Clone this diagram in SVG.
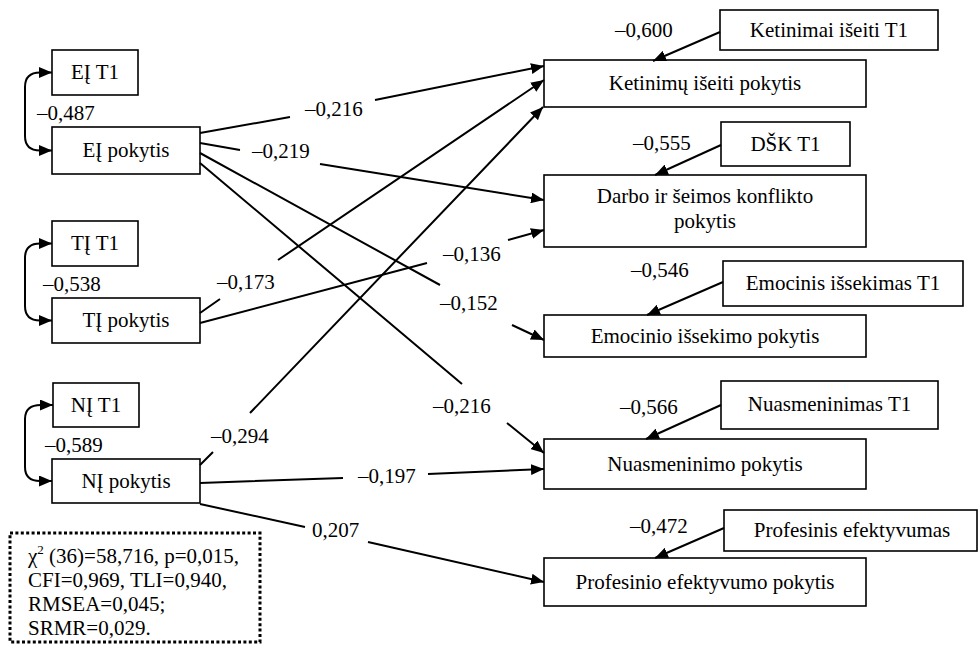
<svg xmlns="http://www.w3.org/2000/svg" width="979" height="645" viewBox="0 0 979 645" font-family="'Liberation Serif', 'DejaVu Serif', serif">
  <style>
    text { font-family: "Liberation Serif", "DejaVu Serif", serif; font-size: 21px; fill: #000; }
    .box rect { fill: #fff; stroke: #000; stroke-width: 1.6; }
    .box text { text-anchor: middle; }
    .edge { fill: none; stroke: #000; stroke-width: 2; }
    .arr { marker-end: url(#head); }
    .cov { marker-start: url(#head); marker-end: url(#head); }
    .fit { fill: #fff; stroke: #000; stroke-width: 3; stroke-dasharray: 3 2.4; }
  </style>
  <defs>
    <marker id="head" markerUnits="userSpaceOnUse" markerWidth="13" markerHeight="11" refX="13" refY="5.5" orient="auto-start-reverse">
      <path d="M0,0 L13,5.5 L0,11 Z" fill="#000"/>
    </marker>
  </defs>

  <!-- predictors: T1 level and change -->
  <g id="ei-t1" class="box"><rect x="52" y="50" width="86" height="45"/><text x="95" y="79">EĮ T1</text></g>
  <g id="ei-change" class="box"><rect x="52" y="127" width="148" height="47"/><text x="126" y="157">EĮ pokytis</text></g>
  <g id="ti-t1" class="box"><rect x="52" y="221" width="86" height="45"/><text x="95" y="250">TĮ T1</text></g>
  <g id="ti-change" class="box"><rect x="52" y="298" width="148" height="45"/><text x="126" y="327">TĮ pokytis</text></g>
  <g id="ni-t1" class="box"><rect x="53" y="383" width="86" height="44"/><text x="96" y="412">NĮ T1</text></g>
  <g id="ni-change" class="box"><rect x="52" y="459" width="148" height="44"/><text x="126" y="488">NĮ pokytis</text></g>

  <!-- outcome T1 levels -->
  <g id="ket-t1" class="box"><rect x="720" y="10" width="218" height="40"/><text x="829" y="37">Ketinimai išeiti T1</text></g>
  <g id="dsk-t1" class="box"><rect x="721" y="122" width="129" height="44"/><text x="785.5" y="151">DŠK T1</text></g>
  <g id="emo-t1" class="box"><rect x="723" y="261" width="240" height="45"/><text x="843" y="290">Emocinis išsekimas T1</text></g>
  <g id="nua-t1" class="box"><rect x="721" y="381" width="217" height="48"/><text x="829.5" y="411">Nuasmeninimas T1</text></g>
  <g id="pro-t1" class="box"><rect x="724" y="510" width="253" height="41"/><text x="852" y="537">Profesinis efektyvumas</text></g>

  <!-- outcome changes -->
  <g id="ket-change" class="box"><rect x="544" y="60" width="322" height="47"/><text x="705" y="90">Ketinimų išeiti pokytis</text></g>
  <g id="dsk-change" class="box"><rect x="544" y="175" width="322" height="72"/><text x="705" y="203">Darbo ir šeimos konflikto</text><text x="705" y="228">pokytis</text></g>
  <g id="emo-change" class="box"><rect x="544" y="315" width="322" height="42"/><text x="705" y="343">Emocinio išsekimo pokytis</text></g>
  <g id="nua-change" class="box"><rect x="544" y="439" width="322" height="50"/><text x="705" y="471">Nuasmeninimo  pokytis</text></g>
  <g id="pro-change" class="box"><rect x="544" y="558" width="322" height="48"/><text x="705" y="589">Profesinio efektyvumo pokytis</text></g>

  <g id="connectors">
    <!-- covariances between T1 level and change -->
    <path class="edge cov" d="M52,72.5 L40,72.5 Q25,72.5 25,87 L25,136 Q25,150.5 40,150.5 L52,150.5"/>
    <path class="edge cov" d="M52,243.5 L40,243.5 Q25,243.5 25,258 L25,306 Q25,320.5 40,320.5 L52,320.5"/>
    <path class="edge cov" d="M53,405 L41,405 Q25,405 25,419 L25,467 Q25,481 40,481 L52,481"/>

    <!-- paths from predictor changes -->
    <path class="edge arr" d="M200,133 L290,117 M375,100 L544,66"/>
    <path class="edge arr" d="M200,143 L240,150 M320,164 L544,200"/>
    <path class="edge arr" d="M200,153 L440,285 M512,325 L544,340"/>
    <path class="edge arr" d="M200,163 L462,384 M507,423 L544,453"/>
    <path class="edge arr" d="M200,313 L220,299 M278,260 L544,80"/>
    <path class="edge arr" d="M200,323 L427,263 M508,240 L544,230"/>
    <path class="edge arr" d="M200,465 L213,452 M250,413 L543,107"/>
    <path class="edge arr" d="M200,483 L343,478 M428,474 L544,469"/>
    <path class="edge arr" d="M200,504 L305,527 M368,542 L544,582"/>

    <!-- paths from outcome T1 levels -->
    <path class="edge arr" d="M720,32 L653,61"/>
    <path class="edge arr" d="M721,145 L655,175"/>
    <path class="edge arr" d="M723,282 L647,315"/>
    <path class="edge arr" d="M721,405 L646,439"/>
    <path class="edge arr" d="M724,528 L655,558"/>

    <!-- coefficients -->
    <text x="37" y="120">–0,487</text>
    <text x="43" y="291">–0,538</text>
    <text x="45" y="452">–0,589</text>
    <text x="305" y="116">–0,216</text>
    <text x="252" y="158">–0,219</text>
    <text x="440" y="310">–0,152</text>
    <text x="433" y="413">–0,216</text>
    <text x="217" y="289">–0,173</text>
    <text x="443" y="261">–0,136</text>
    <text x="211" y="443">–0,294</text>
    <text x="358" y="483">–0,197</text>
    <text x="312" y="537">0,207</text>
    <text x="615" y="37">–0,600</text>
    <text x="633" y="150">–0,555</text>
    <text x="631" y="277">–0,546</text>
    <text x="620" y="414">–0,566</text>
    <text x="630" y="533">–0,472</text>
  </g>

  <!-- model fit indices -->
  <g id="fit">
    <rect class="fit" x="10" y="533" width="250" height="109"/>
    <text x="28" y="563">χ<tspan font-size="13" dy="-9">2</tspan><tspan dy="9"> (36)=58,716, p=0,015,</tspan></text>
    <text x="28" y="587">CFI=0,969, TLI=0,940,</text>
    <text x="28" y="611">RMSEA=0,045;</text>
    <text x="28" y="635">SRMR=0,029.</text>
  </g>
</svg>
